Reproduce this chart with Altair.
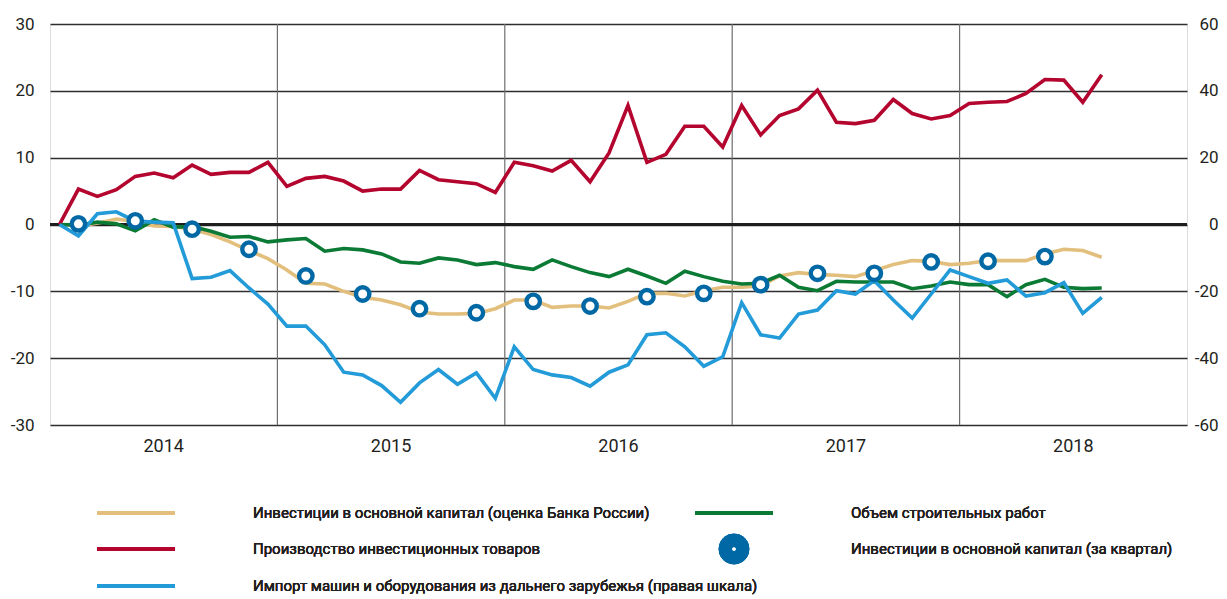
import altair as alt
import pandas as pd

# month index 0 = Jan 2014 ... 55 = Aug 2018
months = list(range(56))

invest_est = [0, -0.2, 0.2, 0.8, 0.5, -0.2, -0.3, -0.7, -1.5, -2.6, -3.9, -5.1,
              -6.8, -8.8, -8.9, -10.0, -10.9, -11.3, -12.0, -13.1, -13.4, -13.4, -13.3, -12.6,
              -11.3, -11.3, -12.4, -12.2, -12.2, -12.5, -11.5, -10.3, -10.3, -10.7, -9.9, -9.4,
              -9.4, -9.2, -7.7, -7.2, -7.5, -7.6, -7.8, -6.9, -6.0, -5.4, -5.5, -6.0,
              -5.8, -5.4, -5.4, -5.4, -4.4, -3.7, -3.9, -4.9]

inv_goods = [0, 5.3, 4.2, 5.2, 7.2, 7.7, 7.0, 8.9, 7.5, 7.8, 7.8, 9.3,
             5.7, 6.9, 7.2, 6.5, 5.0, 5.3, 5.3, 8.1, 6.7, 6.4, 6.1, 4.8,
             9.3, 8.8, 8.0, 9.6, 6.4, 10.7, 17.8, 9.3, 10.5, 14.7, 14.7, 11.6,
             17.8, 13.4, 16.3, 17.3, 20.1, 15.3, 15.1, 15.6, 18.7, 16.6, 15.8, 16.3,
             18.1, 18.3, 18.4, 19.6, 21.7, 21.6, 18.3, 22.4]

construction = [0, -0.1, 0.35, 0.1, -0.95, 0.7, -0.4, -0.3, -1.0, -1.9, -1.8, -2.6,
                -2.3, -2.1, -4.0, -3.6, -3.8, -4.4, -5.6, -5.8, -5.0, -5.3, -6.0, -5.7,
                -6.3, -6.7, -5.3, -6.3, -7.2, -7.8, -6.7, -7.7, -8.8, -7.0, -7.8, -8.5,
                -8.9, -8.8, -7.6, -9.4, -9.9, -8.5, -8.6, -8.6, -8.6, -9.6, -9.2, -8.6,
                -9.0, -9.0, -10.8, -9.0, -8.2, -9.4, -9.6, -9.5]

# right scale
imports = [0, -3.4, 3.2, 3.8, 1.0, 0.7, 0.5, -16.2, -15.8, -13.8, -19.0, -23.8,
           -30.4, -30.4, -36.0, -44.2, -45.0, -48.2, -53.2, -47.4, -43.4, -47.8, -44.4, -52.0,
           -36.6, -43.4, -45.0, -45.8, -48.4, -44.2, -42.0, -33.0, -32.4, -36.6, -42.4, -39.6,
           -23.4, -33.0, -34.0, -26.8, -25.6, -19.8, -20.8, -16.8, -22.6, -28.0, -20.8, -13.6,
           -15.6, -17.6, -16.6, -21.4, -20.4, -17.4, -26.6, -21.8]

quarter_months = list(range(1, 53, 3))
quarter_invest = [0.1, 0.55, -0.7, -3.7, -7.7, -10.4, -12.6, -13.2, -11.5, -12.2,
                  -10.8, -10.3, -9.0, -7.3, -7.3, -5.6, -5.5, -4.8]

years = ["2014", "2015", "2016", "2017", "2018"]
year_bounds = [12, 24, 36, 48]

left_ticks = [-30, -20, -10, 0, 10, 20, 30]
right_ticks = [-60, -40, -20, 0, 20, 40, 60]

labels = {
    "est": "Инвестиции в основной капитал (оценка Банка России)",
    "goods": "Производство инвестиционных товаров",
    "imp": "Импорт машин и оборудования из дальнего зарубежья (правая шкала)",
    "constr": "Объем строительных работ",
    "quarter": "Инвестиции в основной капитал (за квартал)",
}

C_EST = "#E3BF7E"
C_GOODS = "#B4052F"
C_IMP = "#229BD8"
C_CONSTR = "#0B7A35"
C_Q = "#0069A5"
FONT = "Roboto"
TXT = "#231F20"
LABEL_EXPR = "datum.value < 0 ? '-' + abs(datum.value) : '' + datum.value"

df = pd.DataFrame({
    "m": [i + 0.5 for i in months],
    "est": invest_est,
    "goods": inv_goods,
    "constr": construction,
    "imp": imports,
})
dq = pd.DataFrame({"m": [i + 0.5 for i in quarter_months], "q": quarter_invest})
dyears = pd.DataFrame({"m": [12 * k + 6 for k in range(5)], "year": years})
dbounds = pd.DataFrame({"m": year_bounds})

xs = alt.Scale(domain=[0, 60], nice=False, zero=False)
ys_left = alt.Scale(domain=[-30, 30], nice=False)
ys_right = alt.Scale(domain=[-60, 60], nice=False)

X = alt.X("m:Q", scale=xs, axis=None)
base = alt.Chart(df)

left_axis = alt.Axis(values=left_ticks, grid=True, gridColor="#2E2E2E", gridWidth=1.3,
                     ticks=False, domain=False, labelPadding=16, labelFontSize=17,
                     labelFont=FONT, labelColor=TXT, title=None, labelExpr=LABEL_EXPR)
right_axis = alt.Axis(values=right_ticks, orient="right", grid=False, ticks=False,
                      domain=False, labelPadding=31, labelAlign="right", labelFontSize=17,
                      labelFont=FONT, labelColor=TXT, title=None, labelExpr=LABEL_EXPR)

grid_layer = base.mark_line(opacity=0).encode(
    x=X, y=alt.Y("est:Q", scale=ys_left, axis=left_axis))

vrules = alt.Chart(dbounds).mark_rule(color="#6E6E6E", strokeWidth=1.2).encode(x=X)
zero = alt.Chart(dbounds).mark_rule(color="#1E1E1E", strokeWidth=2.6).encode(
    y=alt.Y(datum=0, scale=ys_left, axis=None), x=alt.value(0), x2=alt.value(1137))

def line(field, color, scale):
    return base.mark_line(color=color, strokeWidth=3.6, strokeJoin="miter").encode(
        x=X, y=alt.Y(f"{field}:Q", scale=scale, axis=None))

l_est = line("est", C_EST, ys_left)
l_constr = line("constr", C_CONSTR, ys_left)
l_goods = line("goods", C_GOODS, ys_left)
l_imp = base.mark_line(color=C_IMP, strokeWidth=3.6, strokeJoin="miter").encode(
    x=X, y=alt.Y("imp:Q", scale=ys_right, axis=right_axis))

circles = alt.Chart(dq).mark_point(shape="circle", filled=False, fill="white", fillOpacity=1,
                                   stroke=C_Q, strokeWidth=4.4, size=180, opacity=1).encode(
    x=X, y=alt.Y("q:Q", scale=ys_left, axis=None))

year_text = alt.Chart(dyears).mark_text(font=FONT, fontSize=18, color=TXT, baseline="middle").encode(
    x=X, y=alt.value(423), text="year:N")

# legend
leg = []
def leg_line(x1, x2, y, color):
    return alt.Chart(dbounds).mark_rule(color=color, strokeWidth=4).encode(
        x=alt.value(x1), x2=alt.value(x2), y=alt.value(y))

def leg_text(x, y, text):
    return alt.Chart(dbounds).mark_text(font=FONT, fontSize=15, color=TXT, align="left",
                                        baseline="middle").encode(
        x=alt.value(x), y=alt.value(y), text=alt.value(text))

rows = [489, 525, 562]
leg += [leg_line(47, 125, rows[0], C_EST), leg_text(203, rows[0], labels["est"]),
        leg_line(47, 125, rows[1], C_GOODS), leg_text(203, rows[1], labels["goods"]),
        leg_line(47, 125, rows[2], C_IMP), leg_text(203, rows[2], labels["imp"]),
        leg_line(645, 723, rows[0], C_CONSTR), leg_text(801, rows[0], labels["constr"]),
        leg_text(801, rows[1], labels["quarter"])]
leg.append(alt.Chart(dbounds).mark_point(shape="circle", filled=True, color=C_Q, size=930,
                                         opacity=1).encode(
    x=alt.value(684), y=alt.value(rows[1])))
leg.append(alt.Chart(dbounds).mark_point(shape="circle", filled=True, color="white", size=10,
                                         opacity=1).encode(
    x=alt.value(684), y=alt.value(rows[1])))

chart = alt.layer(
    grid_layer, vrules, zero, l_est, l_constr, l_goods, l_imp, circles, year_text, *leg
).resolve_scale(y="independent").properties(
    width=1137, height=401,
    padding={"left": 42, "top": 16, "right": 32, "bottom": 176},
    autosize="none",
).configure_view(stroke="#2E2E2E", strokeWidth=1.6).configure(background="white")

chart.save("out.html", embed_options={"renderer": "svg", "actions": False})
